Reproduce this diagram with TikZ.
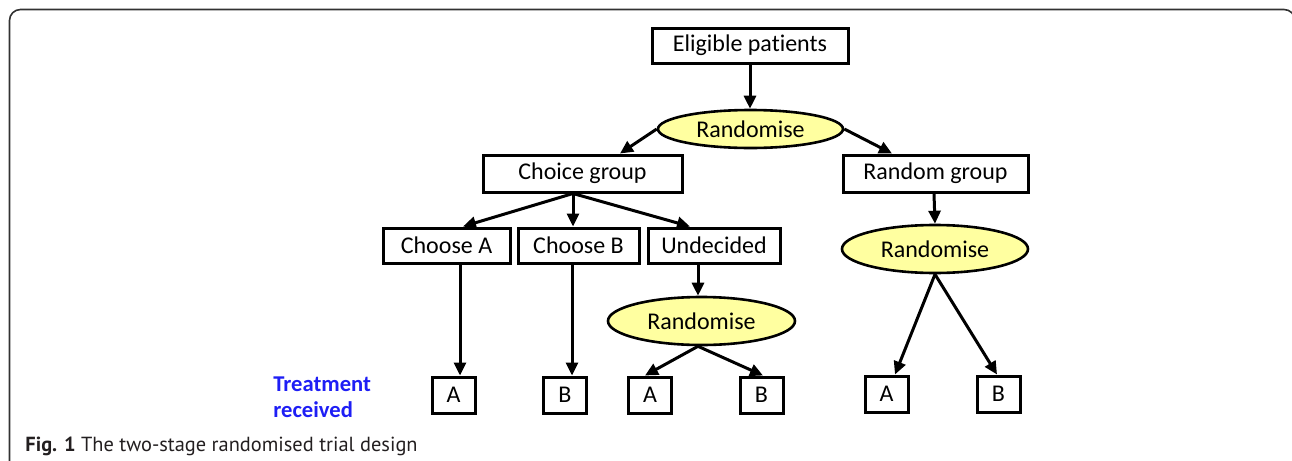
\documentclass[tikz,border=0pt]{standalone}
\usepackage{fontspec}
\setmainfont[Ligatures={NoCommon}]{Carlito}
\newfontfamily\capfont{PT Sans}
\usetikzlibrary{arrows.meta,shapes.geometric,calc}
\definecolor{ellfill}{RGB}{255,255,160}
\definecolor{trblue}{RGB}{30,30,245}
\definecolor{framecol}{RGB}{50,50,50}
\definecolor{captext}{RGB}{35,31,32}
\begin{document}
\begin{tikzpicture}[x=0.5pt,y=-0.5pt,
  boxnode/.style={draw, line width=1.5pt, rectangle, inner sep=0pt, font=\fontsize{12}{13}\selectfont},
  ellnode/.style={draw, line width=1.3pt, ellipse, fill=ellfill, inner sep=0pt, font=\fontsize{12}{13}\selectfont},
  smallbox/.style={boxnode, minimum width=21.5pt, minimum height=18pt},
  arr/.style={line width=1.5pt, -{Triangle[length=6.5pt,width=6pt]}}]
\useasboundingbox (0,0) rectangle (1292,461);
\clip (0,0) rectangle (1292,461);
\draw[framecol, line width=0.8pt, rounded corners=5.5pt] (9.5,480) -- (9.5,9.5) -- (1295,9.5) -- (1295,480);

\node[boxnode, minimum width=98pt, minimum height=17.5pt] (elig) at (750,45.5) {Eligible patients};
\node[ellnode, minimum width=92.5pt, minimum height=19pt] (r1) at (750.5,129) {Randomise};
\node[boxnode, minimum width=99.5pt, minimum height=18.5pt] (cg) at (582.5,173.5) {Choice group};
\node[boxnode, minimum width=92.5pt, minimum height=18.5pt] (rg) at (935.5,173.5) {Random group};
\node[boxnode, minimum width=63.5pt, minimum height=17.5pt] (ca) at (446.5,245.5) {Choose A};
\node[boxnode, minimum width=60.5pt, minimum height=17.5pt] (cb) at (578.5,245.5) {Choose B};
\node[boxnode, minimum width=66pt, minimum height=17.5pt] (ud) at (714,245.5) {Undecided};
\node[ellnode, minimum width=93.5pt, minimum height=24pt] (r2) at (701.5,321) {Randomise};
\node[ellnode, minimum width=93pt, minimum height=24pt] (r3) at (935,249) {Randomise};

\node[smallbox] (a1) at (453.5,395) {A};
\node[smallbox] (b1) at (565,395) {B};
\node[smallbox] (a2) at (650,395) {A};
\node[smallbox] (b2) at (761.5,395) {B};
\node[smallbox] (a3) at (886.5,394) {A};
\node[smallbox] (b3) at (998.5,394) {B};

\draw[arr] (elig.south) -- (elig.south |- r1.north);
\draw[arr] (r1.west) -- ($(cg.north)+(37.5,0)$);
\draw[arr] (r1.east) -- ($(rg.north)+(-43.5,0)$);
\coordinate (cgs) at ($(cg.south)+(-9.5,0)$);
\draw[arr] (cgs) -- ($(ca.north)+(16.5,0)$);
\draw[arr] (cgs) -- (cgs |- cb.north);
\draw[arr] (cgs) -- ($(ud.north)+(-24,0)$);
\draw[arr] ($(ca.south)+(13.5,0)$) -- ($(a1.north)+(6.5,0)$);
\draw[arr] ($(cb.south)+(-6.5,0)$) -- ($(b1.north)+(7,0)$);
\draw[arr] ($(ud.south)+(-16,0)$) -- ($(r2.north)+(-3.5,0)$);
\draw[arr] ($(r2.south)+(-3.5,0)$) -- ($(a2.north)+(-5,0)$);
\draw[arr] ($(r2.south)+(-3.5,0)$) -- ($(b2.north)+(1.5,0)$);
\draw[arr] ($(rg.south)+(-1.5,0)$) -- (r3.north);
\draw[arr] (r3.south) -- ($(a3.north)+(8.5,0)$);
\draw[arr] (r3.south) -- ($(b3.north)+(-1.5,0)$);

\node[anchor=west, inner sep=0pt, align=left, text=trblue, font=\bfseries\fontsize{11.3}{13}\selectfont] (tr) at (273,397) {Treatment\\received};
\node[anchor=base west, inner sep=0pt, text=captext, font=\capfont\fontsize{10.2}{12}\selectfont] (cap) at (25,451) {\textbf{Fig. 1} The two-stage randomised trial design};
\end{tikzpicture}
\end{document}
